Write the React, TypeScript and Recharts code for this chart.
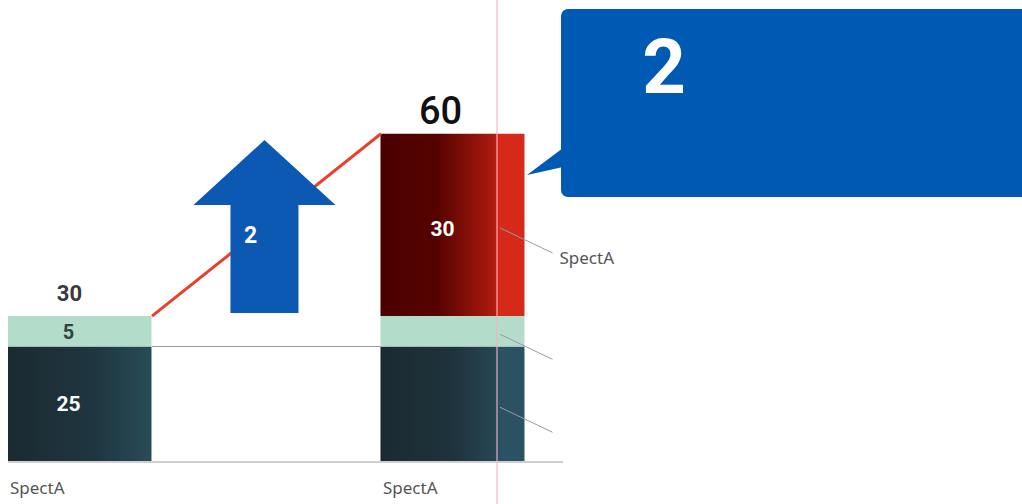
import React from 'react'
import { ComposedChart, Bar, XAxis, YAxis, Cell, LabelList, ReferenceLine, ReferenceDot } from 'recharts'

const categories = ['SpectA', 'SpectA']
const baseValues = [25, 25]
const midValues = [5, 5]
const topValues = [0, 30]
const arrowLabel = '2'
const calloutLabel = '2'
const seriesLabel = 'SpectA'

const data = categories.map((name, i) => ({
  x: i,
  name,
  base: baseValues[i],
  mid: midValues[i],
  top: topValues[i],
  total: baseValues[i] + midValues[i] + topValues[i],
}))

const W = 1022
const H = 504
const X_AXIS_H = 30
const margin = { top: 0, right: 459, bottom: 12, left: 8 }
const plotW = W - margin.left - margin.right
const plotBottom = H - margin.bottom - X_AXIS_H
const BAR = 144
const xDomain: [number, number] = [-0.193, 1.295]
const pxPerX = plotW / (xDomain[1] - xDomain[0])
const halfBar = BAR / 2 / pxPerX
const markerX = 1 + 44 / pxPerX
const last = data.length - 1

const numFont = 'Roboto, "DejaVu Sans", sans-serif'
const textFont = '"Noto Sans", Lato, sans-serif'

const box = (p: any) => {
  const vb = p.viewBox || {}
  const x = vb.x ?? p.x
  const y = vb.y ?? p.y
  const w = vb.width ?? p.width
  const h = vb.height ?? p.height
  const bottom = Math.min(y + h, plotBottom)
  const idx = Math.round((x + w / 2 - margin.left) / pxPerX + xDomain[0])
  return { x, y, w, h, cy: (y + bottom) / 2, idx }
}

const leader = (x: number, w: number, cy: number, withText: boolean) => (
  <g>
    <line x1={x + w * 0.83} y1={cy + 3} x2={x + w + 28} y2={cy + 28} stroke="#9a9a9a" strokeWidth={1} />
    {withText && (
      <text x={x + w + 35} y={cy + 39} fontFamily={textFont} fontSize={17} fill="#555">
        {seriesLabel}
      </text>
    )}
  </g>
)

const Total = ({ x, y, w, idx }: any) => {
  const big = idx === last
  return (
    <text
      x={x + w / 2 - (big ? 12 : 10)}
      y={y - (big ? 10 : 15)}
      textAnchor="middle"
      fontFamily={numFont}
      fontWeight={big ? 500 : 700}
      fontSize={big ? 38 : 22}
      fill={big ? '#111' : '#3a3a3a'}
    >
      {data[idx].total}
    </text>
  )
}

const BaseLabel = (p: any) => {
  const { x, w, cy, idx } = box(p)
  return (
    <g>
      {idx !== last && (
        <text x={x + w / 2 - 11} y={cy} textAnchor="middle" dominantBaseline="central" fontFamily={numFont} fontWeight={700} fontSize={21} fill="#fff">
          {data[idx].base}
        </text>
      )}
      {idx === last && leader(x, w, cy, false)}
    </g>
  )
}

const MidLabel = (p: any) => {
  const { x, y, w, cy, idx } = box(p)
  return (
    <g>
      {idx !== last && (
        <text x={x + w / 2 - 11} y={cy + 1} textAnchor="middle" dominantBaseline="central" fontFamily={numFont} fontWeight={700} fontSize={20} fill="#2d4640">
          {data[idx].mid}
        </text>
      )}
      {data[idx].top === 0 && <Total x={x} y={y} w={w} idx={idx} />}
      {idx === last && leader(x, w, cy, false)}
    </g>
  )
}

const TopLabel = (p: any) => {
  const { x, y, w, cy, idx } = box(p)
  const row = data[idx]
  if (!row || row.top === 0) return null
  return (
    <g>
      <text x={x + w / 2 - 10} y={cy + 4} textAnchor="middle" dominantBaseline="central" fontFamily={numFont} fontWeight={700} fontSize={21} fill="#fff">
        {row.top}
      </text>
      <Total x={x} y={y} w={w} idx={idx} />
      {idx === last && leader(x, w, cy, true)}
    </g>
  )
}

const Arrow = (p: any) => {
  const { cx, cy } = p
  const pts = [
    [cx - 2, cy - 176],
    [cx + 69, cy - 111],
    [cx + 32, cy - 111],
    [cx + 32, cy - 3],
    [cx - 36, cy - 3],
    [cx - 36, cy - 111],
    [cx - 73, cy - 111],
  ]
    .map((q) => q.join(','))
    .join(' ')
  return (
    <g>
      <polygon points={pts} fill="#0b59b3" />
      <text x={cx - 16} y={cy - 81} textAnchor="middle" dominantBaseline="central" fontFamily={numFont} fontWeight={700} fontSize={23} fill="#fff">
        {arrowLabel}
      </text>
    </g>
  )
}

const XTick = (p: any) => {
  const { x, y, payload } = p
  return (
    <text x={x - 70} y={y + 24} fontFamily={textFont} fontSize={17} fill="#555">
      {categories[payload.value] ?? ''}
    </text>
  )
}

export default function App() {
  return (
    <div style={{ position: 'absolute', left: 0, top: 0, width: W, height: H, background: '#fff' }}>
      <ComposedChart width={W} height={H} data={data} margin={margin}>
        <defs>
          <linearGradient id="tealA" x1="0" y1="0" x2="1" y2="0">
            <stop offset="0" stopColor="#1b2a31" />
            <stop offset="0.6" stopColor="#1f3640" />
            <stop offset="1" stopColor="#284c58" />
          </linearGradient>
          <linearGradient id="tealB" x1="0" y1="0" x2="1" y2="0">
            <stop offset="0" stopColor="#1b2a31" />
            <stop offset="0.5" stopColor="#1e333c" />
            <stop offset="0.8" stopColor="#264755" />
            <stop offset="0.8" stopColor="#2a5262" />
            <stop offset="1" stopColor="#2a5262" />
          </linearGradient>
          <linearGradient id="redB" x1="0" y1="0" x2="1" y2="0">
            <stop offset="0" stopColor="#4a0000" />
            <stop offset="0.4" stopColor="#560300" />
            <stop offset="0.8" stopColor="#b01c10" />
            <stop offset="0.8" stopColor="#d6291a" />
            <stop offset="1" stopColor="#d6291a" />
          </linearGradient>
        </defs>
        <XAxis
          dataKey="x"
          type="number"
          domain={xDomain}
          allowDataOverflow
          height={X_AXIS_H}
          ticks={[0, 1]}
          tick={<XTick />}
          tickLine={false}
          axisLine={{ stroke: '#cfcfcf', strokeWidth: 2 }}
        />
        <YAxis hide domain={[6, 82]} allowDataOverflow />
        <Bar dataKey="base" stackId="s" barSize={BAR} isAnimationActive={false}>
          {data.map((d, i) => (
            <Cell key={i} fill={i === last ? 'url(#tealB)' : 'url(#tealA)'} />
          ))}
          <LabelList dataKey="base" content={<BaseLabel />} />
        </Bar>
        <Bar dataKey="mid" stackId="s" barSize={BAR} fill="#b4dccb" isAnimationActive={false}>
          <LabelList dataKey="mid" content={<MidLabel />} />
        </Bar>
        <Bar dataKey="top" stackId="s" barSize={BAR} fill="url(#redB)" isAnimationActive={false}>
          <LabelList dataKey="top" content={<TopLabel />} />
        </Bar>
        <ReferenceLine
          segment={[
            { x: halfBar, y: data[0].base },
            { x: 1 - halfBar, y: data[1].base },
          ]}
          stroke="#9a9a9a"
          strokeWidth={1}
          ifOverflow="visible"
        />
        <ReferenceLine
          segment={[
            { x: halfBar, y: data[0].total },
            { x: 1 - halfBar, y: data[1].total },
          ]}
          stroke="#e8402a"
          strokeWidth={3}
          ifOverflow="visible"
        />
        <ReferenceDot x={0.5} y={data[0].total} r={1} ifOverflow="visible" shape={<Arrow />} />
        <ReferenceLine
          segment={[
            { x: markerX, y: 82 },
            { x: markerX, y: -1 },
          ]}
          stroke="rgba(250,175,195,0.55)"
          strokeWidth={2}
          ifOverflow="visible"
        />
      </ComposedChart>
      <svg width={W} height={H} style={{ position: 'absolute', left: 0, top: 0, pointerEvents: 'none' }}>
        <rect x={561} y={9} width={480} height={188} rx={7} fill="#0059b3" />
        <polygon points="563,148 527,175 563,167" fill="#0059b3" />
        <text x={664} y={67} textAnchor="middle" dominantBaseline="central" fontFamily={numFont} fontWeight={700} fontSize={76} fill="#fff">
          {calloutLabel}
        </text>
      </svg>
    </div>
  )
}
